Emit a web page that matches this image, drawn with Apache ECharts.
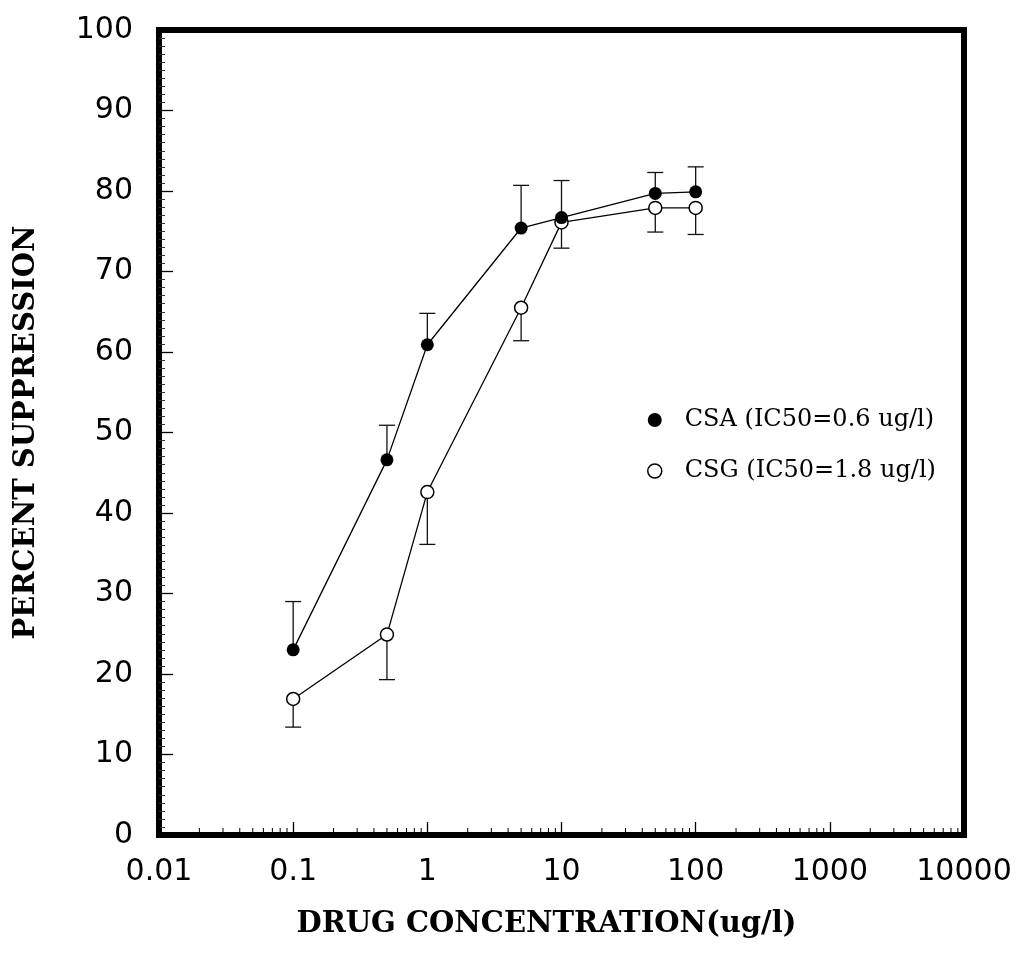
<!DOCTYPE html>
<html>
<head>
<meta charset="utf-8">
<script src="https://cdn.jsdelivr.net/npm/echarts@6/dist/echarts.min.js"></script>
<style>
  html, body { margin: 0; padding: 0; background: #fff; }
  #chart { width: 1023px; height: 956px; }
</style>
</head>
<body>
<div id="chart"></div>
<script>
// drug concentrations (ug/l)
const conc = [0.1, 0.5, 1, 5, 10, 50, 100];
// percent suppression, CSA (filled) and CSG (open)
const csa = [23.0, 46.6, 60.9, 75.4, 76.7, 79.7, 79.9];
const csaUpper = [29.0, 50.9, 64.8, 80.7, 81.3, 82.3, 83.0];
const csg = [16.9, 24.9, 42.6, 65.5, 76.1, 77.9, 77.9];
const csgLower = [13.4, 19.3, 36.1, 61.4, 72.9, 74.9, 74.6];

const xTickLabels = ['0.01', '0.1', '1', '10', '100', '1000', '10000'];
const minorMult = [2, 3, 4, 5, 6, 7, 8, 9];
const decades = [0.01, 0.1, 1, 10, 100, 1000];

const csaName = 'CSA (IC50=0.6 ug/l)';
const csgName = 'CSG (IC50=1.8 ug/l)';

const serif = "'DejaVu Serif', 'Liberation Serif', serif";

const minorTicks = [];
decades.forEach((d) => minorMult.forEach((m) => minorTicks.push([d * m, 0])));

const chart = echarts.init(document.getElementById('chart'));

function errorBar(params, api) {
  const p = api.coord([api.value(0), api.value(1)]);
  const q = api.coord([api.value(0), api.value(2)]);
  const st = { stroke: '#111', lineWidth: 1.3 };
  return {
    type: 'group',
    children: [
      { type: 'line', shape: { x1: p[0], y1: p[1], x2: q[0], y2: q[1] }, style: st },
      { type: 'line', shape: { x1: q[0] - 8, y1: q[1], x2: q[0] + 8, y2: q[1] }, style: st },
    ],
  };
}

chart.setOption({
  backgroundColor: '#fff',
  animation: false,
  grid: {
    left: 159,
    right: 59,
    top: 30,
    bottom: 121,
    show: true,
    borderColor: '#000',
    borderWidth: 6,
    backgroundColor: 'transparent',
  },
  legend: {
    orient: 'vertical',
    left: 642,
    top: 403,
    itemWidth: 14,
    itemHeight: 14,
    itemGap: 27,
    selectedMode: false,
    textStyle: {
      fontFamily: serif,
      fontSize: 24,
      color: '#000',
      padding: [0, 0, 0, 18],
    },
    data: [
      { name: csaName, icon: 'circle', itemStyle: { color: '#000', borderWidth: 0 } },
      { name: csgName, icon: 'circle', itemStyle: { color: '#fff', borderColor: '#000', borderWidth: 1.5 } },
    ],
  },
  xAxis: {
    type: 'log',
    logBase: 10,
    min: 0.01,
    max: 10000,
    name: 'DRUG CONCENTRATION(ug/l)',
    nameLocation: 'middle',
    nameGap: 75,
    nameTextStyle: {
      fontFamily: serif,
      fontWeight: 'bold',
      fontSize: 29,
      color: '#000',
      padding: [0, 30, 0, 0],
    },
    axisLine: { show: false },
    axisTick: { show: true, inside: true, length: 13, lineStyle: { color: '#000', width: 1.3 } },
    splitLine: { show: false },
    axisLabel: {
      margin: 22,
      fontFamily: 'DejaVu Sans',
      fontSize: 30,
      color: '#000',
      formatter: (v, i) => xTickLabels[i],
    },
  },
  yAxis: {
    type: 'value',
    min: 0,
    max: 100,
    interval: 10,
    name: 'PERCENT SUPPRESSION',
    nameLocation: 'middle',
    nameGap: 118,
    nameRotate: 90,
    nameTextStyle: {
      fontFamily: serif,
      fontWeight: 'bold',
      fontSize: 29,
      color: '#000',
    },
    axisLine: { show: false },
    axisTick: { show: true, inside: true, length: 14, lineStyle: { color: '#000', width: 1.3 } },
    minorTick: { show: true, splitNumber: 10, length: 6, lineStyle: { color: '#333', width: 1 } },
    splitLine: { show: false },
    axisLabel: {
      margin: 26,
      fontFamily: 'DejaVu Sans',
      fontSize: 30,
      color: '#000',
    },
  },
  series: [
    {
      type: 'custom',
      name: 'minor',
      data: minorTicks,
      clip: false,
      silent: true,
      renderItem: (params, api) => {
        const p = api.coord([api.value(0), api.value(1)]);
        return {
          type: 'line',
          shape: { x1: p[0], y1: p[1], x2: p[0], y2: p[1] - 7 },
          style: { stroke: '#000', lineWidth: 1 },
        };
      },
    },
    {
      type: 'custom',
      name: 'csgErr',
      data: conc.map((c, i) => [c, csg[i], csgLower[i]]),
      renderItem: errorBar,
      z: 1,
    },
    {
      type: 'custom',
      name: 'csaErr',
      data: conc.map((c, i) => [c, csa[i], csaUpper[i]]),
      renderItem: errorBar,
      z: 1,
    },
    {
      type: 'line',
      name: csgName,
      data: conc.map((c, i) => [c, csg[i]]),
      symbol: 'circle',
      symbolSize: 13,
      showAllSymbol: true,
      lineStyle: { color: '#000', width: 1.3 },
      itemStyle: { color: '#fff', borderColor: '#000', borderWidth: 1.5 },
      z: 2,
    },
    {
      type: 'line',
      name: csaName,
      data: conc.map((c, i) => [c, csa[i]]),
      symbol: 'circle',
      symbolSize: 13,
      showAllSymbol: true,
      lineStyle: { color: '#000', width: 1.3 },
      itemStyle: { color: '#000', borderColor: '#000', borderWidth: 0 },
      z: 3,
    },
  ],
});
</script>
</body>
</html>
